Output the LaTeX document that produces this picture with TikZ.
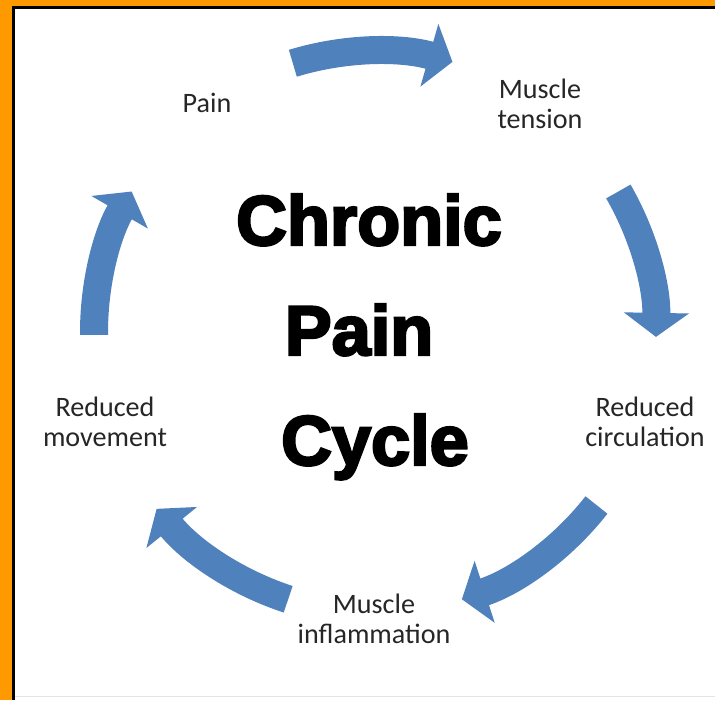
\documentclass[tikz,border=0pt]{standalone}
\usepackage{fontspec}
\setmainfont{Carlito}
\newfontfamily\titlefont{Liberation Sans Bold}[FakeBold=3.5]
\usetikzlibrary{arrows.meta,calc}
\definecolor{cycleblue}{RGB}{79,129,189}
\definecolor{frameorange}{RGB}{255,153,0}
\tikzset{
  stage/.style={
    align=center,
    inner sep=1pt,
    text=black!85,
    font=\fontsize{16}{17}\selectfont
  },
  headline/.style={anchor=base, inner sep=0pt, font=\titlefont\fontsize{40}{40}\selectfont},
  flow/.style={draw=cycleblue, line width=5.6mm, -{Triangle[length=4.8mm, width=12.8mm]}}
}
\newcommand{\ringr}{5.62}
\newcommand{\cyclearc}[3]{
  \coordinate (#1) at ($(ctr)+(#2:\ringr)$);
  \draw[flow] (#1) arc[start angle=#2, end angle=#3, radius=\ringr];
}

\begin{document}
\begin{tikzpicture}

  % -------------------------------------------------------------------
  % frame
  % -------------------------------------------------------------------
  \useasboundingbox (0,0) rectangle (14.3,14);
  \fill[frameorange] (0,0) rectangle (14.3,14);
  \fill[black] (0.24,0) rectangle (14.3,13.88);
  \fill[white] (0.3,0) rectangle (14.3,13.82);
  \draw[gray!20] (0.3,0.08) -- (14.3,0.08);

  % -------------------------------------------------------------------
  % arrows round the cycle
  % -------------------------------------------------------------------
  \coordinate (ctr) at (7.5,7.36);
  \cyclearc{a1}{107}{74}
  \cyclearc{a2}{30}{-1}
  \cyclearc{a3}{-38}{-72}
  \cyclearc{a4}{-108}{-141}
  \cyclearc{a5}{180.6}{150}

  % -------------------------------------------------------------------
  % stages
  % -------------------------------------------------------------------
  \node[stage] (pain) at (4.14,11.94) {Pain};
  \node[stage] (tension) at (10.8,11.92) {Muscle\\tension};
  \node[stage] (circulation) at (12.9,5.56) {Reduced\\circulation};
  \node[stage] (inflammation) at (7.48,1.62) {Muscle\\inflammation};
  \node[stage] (movement) at (2.1,5.56) {Reduced\\movement};

  % -------------------------------------------------------------------
  % title
  % -------------------------------------------------------------------
  \node[headline] (chronic) at (7.38,9.1) {Chronic};
  \node[headline] (painword) at (7.18,6.9) {Pain};
  \node[headline] (cycle) at (7.5,4.7) {Cycle};

\end{tikzpicture}
\end{document}
